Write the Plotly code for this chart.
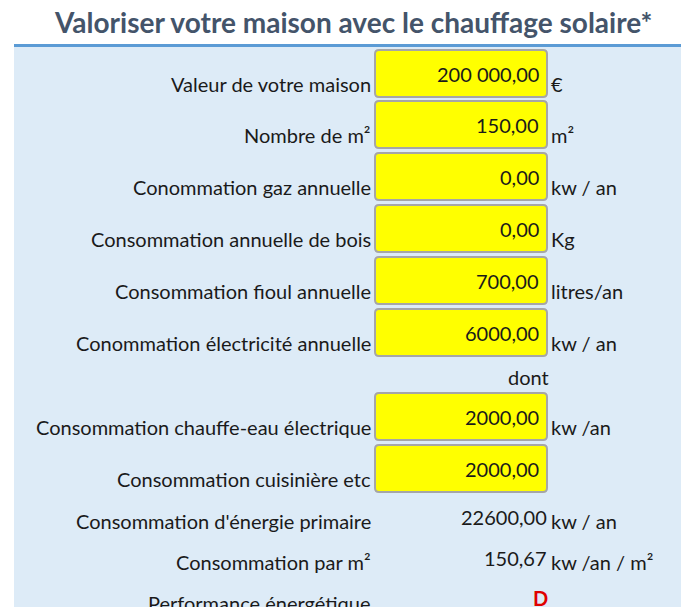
import plotly.graph_objects as go

title = "Valoriser votre maison avec le chauffage solaire*"
input_labels = ["Valeur de votre maison", "Nombre de m²", "Conommation gaz annuelle",
                "Consommation annuelle de bois", "Consommation fioul annuelle",
                "Conommation électricité annuelle",
                "Consommation chauffe-eau électrique", "Consommation cuisinière etc"]
input_values = ["200 000,00", "150,00", "0,00", "0,00", "700,00", "6000,00", "2000,00", "2000,00"]
input_units = ["€", "m²", "kw / an", "Kg", "litres/an", "kw / an", "kw /an", ""]
result_labels = ["Consommation d'énergie primaire", "Consommation par m²", "Performance énergétique"]
result_values = ["22600,00", "150,67", "D"]
result_units = ["kw / an", "kw /an / m²", ""]
dont_text = "dont"

W, H = 689, 607
FONT = "Lato"
TXT = "#1a1a1a"
FS = 20
box_tops = [50, 101, 153, 205, 257, 309, 393, 445]
res_y = [521, 562, 603]

fig = go.Figure()
shapes = [
    dict(type="rect", x0=14, x1=W + 20, y0=46, y1=H + 20, fillcolor="#DDEBF7", line_width=0, layer="below"),
    dict(type="line", x0=14, x1=W + 20, y0=45.5, y1=45.5, line=dict(color="#5B9BD5", width=3)),
]
ann = [dict(x=W / 2 + 8, y=22, text=f"<b>{title}</b>", showarrow=False,
            font=dict(family=FONT, size=28, color="#44546A"), xanchor="center", yanchor="middle")]

for lab, val, unit, top in zip(input_labels, input_values, input_units, box_tops):
    x0, x1, y0, y1 = 375, 547, top, top + 47
    r = 4
    path = (f"M {x0+r},{y0} L {x1-r},{y0} Q {x1},{y0} {x1},{y0+r} L {x1},{y1-r} Q {x1},{y1} {x1-r},{y1} "
            f"L {x0+r},{y1} Q {x0},{y1} {x0},{y1-r} L {x0},{y0+r} Q {x0},{y0} {x0+r},{y0} Z")
    shapes.append(dict(type="path", path=path, fillcolor="#FFFF00", line=dict(color="#A6A6A6", width=2)))
    ann.append(dict(x=373, y=top + 34, text=lab, xanchor="right", yanchor="middle", showarrow=False,
                    font=dict(family=FONT, size=FS, color=TXT)))
    ann.append(dict(x=541, y=top + 24, text=val, xanchor="right", yanchor="middle", showarrow=False,
                    font=dict(family=FONT, size=FS, color=TXT)))
    if unit:
        ann.append(dict(x=549, y=top + 34, text=unit, xanchor="left", yanchor="middle", showarrow=False,
                        font=dict(family=FONT, size=FS, color=TXT)))

ann.append(dict(x=528, y=377, text=dont_text, xanchor="center", yanchor="middle", showarrow=False,
                font=dict(family=FONT, size=FS, color=TXT)))

for lab, val, unit, y in zip(result_labels, result_values, result_units, res_y):
    ann.append(dict(x=373, y=y, text=lab, xanchor="right", yanchor="middle", showarrow=False,
                    font=dict(family=FONT, size=FS, color=TXT)))
    if val == "D":
        ann.append(dict(x=540, y=y - 5, text="<b>D</b>", xanchor="center", yanchor="middle", showarrow=False,
                        font=dict(family=FONT, size=FS, color="#E00000")))
    else:
        ann.append(dict(x=549, y=y - 4, text=val, xanchor="right", yanchor="middle", showarrow=False,
                        font=dict(family=FONT, size=FS, color=TXT)))
    if unit:
        ann.append(dict(x=549, y=y, text=unit, xanchor="left", yanchor="middle", showarrow=False,
                        font=dict(family=FONT, size=FS, color=TXT)))

fig.update_layout(
    width=W, height=H, margin=dict(l=0, r=0, t=0, b=0),
    paper_bgcolor="white", plot_bgcolor="white",
    xaxis=dict(range=[8, W + 8], visible=False, fixedrange=True),
    yaxis=dict(range=[H + 8, 8], visible=False, fixedrange=True),
    shapes=shapes, annotations=ann, showlegend=False,
)
fig.write_html("out.html")
